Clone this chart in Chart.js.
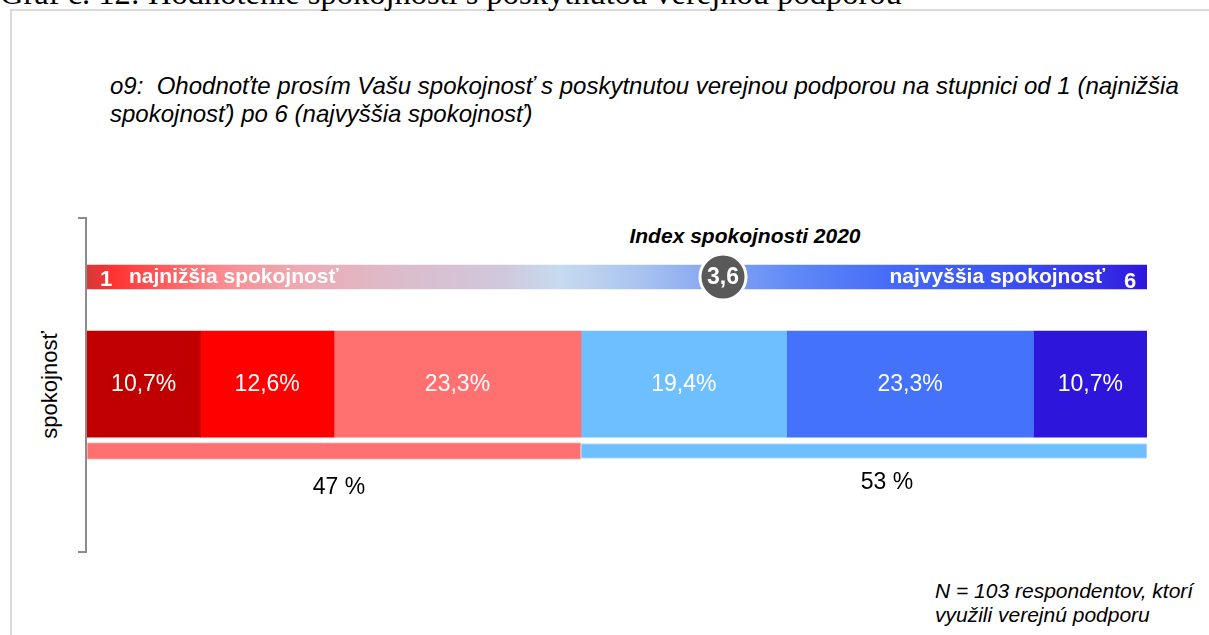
<!DOCTYPE html>
<html>
<head>
<meta charset="utf-8">
<script src="https://cdn.jsdelivr.net/npm/chart.js@4.4.1/dist/chart.umd.min.js"></script>
<style>
  body { margin: 0; background: #fff; width: 1209px; height: 635px; overflow: hidden; position: relative;
         font-family: Arial, "Liberation Sans", sans-serif; color: #000; }
  #title { position: absolute; left: 0; top: -23px; font-family: "Times New Roman", "Liberation Serif", serif;
           font-size: 32.5px; line-height: 32px; white-space: nowrap; }
  #frame { position: absolute; left: 10px; top: 9px; width: 1205px; height: 640px; border: 2px solid #dadada; box-sizing: border-box; }
  #question { position: absolute; left: 110px; top: 72px; font-style: italic; font-size: 24px; line-height: 28px; white-space: nowrap; }
  #note { position: absolute; left: 935px; top: 579px; font-style: italic; font-size: 21px; line-height: 24px; white-space: nowrap; }
  #axisName { position: absolute; left: 50px; top: 385px; transform: translate(-50%, -50%) rotate(-90deg);
              font-size: 22px; white-space: nowrap; }
  #bracket { position: absolute; left: 78px; top: 217px; width: 7px; height: 332px; border: 2px solid #8c8c8c;
             border-left: none; box-sizing: content-box; }
  #indexTitle { position: absolute; left: 745px; top: 236px; transform: translate(-50%, -50%);
                font-weight: bold; font-style: italic; font-size: 21px; white-space: nowrap; }
  canvas { position: absolute; left: 0; top: 0; }
</style>
</head>
<body>
<div id="frame"></div>
<div id="title">Graf č. 12: Hodnotenie spokojnosti s poskytnutou verejnou podporou</div>
<div id="question">o9:&nbsp; Ohodnoťte prosím Vašu spokojnosť s poskytnutou verejnou podporou na stupnici od 1 (najnižšia<br>spokojnosť) po 6 (najvyššia spokojnosť)</div>
<div id="bracket"></div>
<div id="axisName">spokojnosť</div>
<div id="indexTitle">Index spokojnosti 2020</div>
<div id="note">N = 103 respondentov, ktorí<br>využili verejnú podporu</div>
<canvas id="chart" width="1209" height="635"></canvas>
<script>
// hodnoty z grafu
var levels = ['1', '2', '3', '4', '5', '6'];
var shares = [10.7, 12.6, 23.3, 19.4, 23.3, 10.7];
var groups = ['nespokojní', 'spokojní'];
var groupShares = [46.6, 53.4];
var groupLabels = ['47 %', '53 %'];
var indexValue = 3.6;
var lowLabel = 'najnižšia spokojnosť';
var highLabel = 'najvyššia spokojnosť';

var segColors = ['#c00000', '#ff0000', '#ff7070', '#6ebfff', '#4472fa', '#2e15dc'];
var groupColors = ['#ff7070', '#6ebfff'];
var bandStops = [
    [0, '#d63a3a'], [0.012, '#e83535'], [0.026, '#ff3333'], [0.07, '#ff5a5a'],
    [0.125, '#fb8a8e'], [0.2, '#eeaab3'], [0.295, '#dcbccb'], [0.39, '#d0c8dc'],
    [0.446, '#c6daf0'], [0.52, '#aac4f0'], [0.58, '#8aaaf2'], [0.67, '#5f88f6'],
    [0.767, '#4468f8'], [0.86, '#3b55f2'], [0.956, '#3530e8'], [1, '#2e14de']
];

// riadky na osi y
var ROW_BAND = 0, ROW_MAIN = 1.6, ROW_SUM = 2.6;
var FONT = 'Arial, "Liberation Sans", sans-serif';

function fmt(v) {
    return v.toFixed(1).replace('.', ',');
}

var datasets = [];

datasets.push({
    type: 'scatter',
    label: 'Index',
    data: [{ x: indexValue, y: ROW_BAND }],
    xAxisID: 'xIdx',
    yAxisID: 'y',
    pointRadius: 23,
    pointHoverRadius: 23,
    pointBackgroundColor: '#595959',
    pointBorderColor: '#ffffff',
    pointBorderWidth: 3,
    order: -1,
    kind: 'index'
});

datasets.push({
    label: 'škála',
    data: [{ x: 100, y: ROW_BAND }],
    stack: 'band',
    barThickness: 24,
    backgroundColor: function(c) {
        var area = c.chart.chartArea;
        if (!area) return bandStops[0][1];
        var g = c.chart.ctx.createLinearGradient(area.left, 0, area.right, 0);
        bandStops.forEach(function(s) { g.addColorStop(s[0], s[1]); });
        return g;
    },
    kind: 'band'
});

levels.forEach(function(lv, i) {
    datasets.push({
        label: lv,
        data: [{ x: shares[i], y: ROW_MAIN }],
        stack: 'main',
        barThickness: 106,
        backgroundColor: segColors[i],
        kind: 'main'
    });
});

groups.forEach(function(g, i) {
    datasets.push({
        label: g,
        data: [{ x: groupShares[i], y: ROW_SUM }],
        stack: 'sum',
        barThickness: i === 0 ? 17 : 15,
        backgroundColor: groupColors[i],
        borderColor: i === 0 ? '#ffc4c4' : '#b8defc',
        borderWidth: 1,
        borderSkipped: false,
        labelDx: i === 0 ? 5 : 23,
        labelDy: i === 0 ? 37 : 32,
        text: groupLabels[i],
        kind: 'sum'
    });
});

var labelPlugin = {
    id: 'labels',
    afterDatasetsDraw: function(chart) {
        var ctx = chart.ctx;
        ctx.save();
        chart.data.datasets.forEach(function(ds, i) {
            var meta = chart.getDatasetMeta(i);
            meta.data.forEach(function(el, j) {
                var cx = (el.x + el.base) / 2;
                if (ds.kind === 'main') {
                    ctx.fillStyle = '#ffffff';
                    ctx.font = '23px ' + FONT;
                    ctx.textAlign = 'center';
                    ctx.textBaseline = 'middle';
                    ctx.fillText(fmt(ds.data[j].x) + '%', cx, el.y + 1);
                } else if (ds.kind === 'sum') {
                    ctx.fillStyle = '#000000';
                    ctx.font = '23px ' + FONT;
                    ctx.textAlign = 'center';
                    ctx.textBaseline = 'middle';
                    ctx.fillText(ds.text, cx + ds.labelDx, el.y + ds.labelDy);
                } else if (ds.kind === 'band') {
                    ctx.fillStyle = '#ffffff';
                    ctx.textBaseline = 'middle';
                    ctx.font = 'bold 22px ' + FONT;
                    ctx.textAlign = 'center';
                    ctx.fillText(levels[0], el.base + 19, el.y + 3);
                    ctx.fillText(levels[levels.length - 1], el.x - 17, el.y + 5);
                    ctx.font = 'bold 21px ' + FONT;
                    ctx.textAlign = 'left';
                    ctx.fillText(lowLabel, el.base + 42, el.y);
                    ctx.textAlign = 'right';
                    ctx.fillText(highLabel, el.x - 42, el.y);
                } else if (ds.kind === 'index') {
                    ctx.fillStyle = '#ffffff';
                    ctx.font = 'bold 23px ' + FONT;
                    ctx.textAlign = 'center';
                    ctx.textBaseline = 'middle';
                    ctx.fillText(fmt(ds.data[j].x), el.x, el.y + 1);
                }
            });
        });
        ctx.restore();
    }
};

new Chart(document.getElementById('chart').getContext('2d'), {
    type: 'bar',
    data: { datasets: datasets },
    options: {
        indexAxis: 'y',
        responsive: false,
        animation: false,
        devicePixelRatio: 1,
        grouped: false,
        layout: { autoPadding: false, padding: { left: 87, right: 62, top: 210, bottom: 117 } },
        plugins: { legend: { display: false }, tooltip: { enabled: false } },
        scales: {
            x: { type: 'linear', stacked: true, min: 0, max: 100, offset: false, display: false },
            xIdx: { type: 'linear', axis: 'x', min: 0, max: 6, offset: false, display: false },
            y: { type: 'linear', min: -1, max: 3.6, reverse: true, offset: false, display: false }
        }
    },
    plugins: [labelPlugin]
});
</script>
</body>
</html>
